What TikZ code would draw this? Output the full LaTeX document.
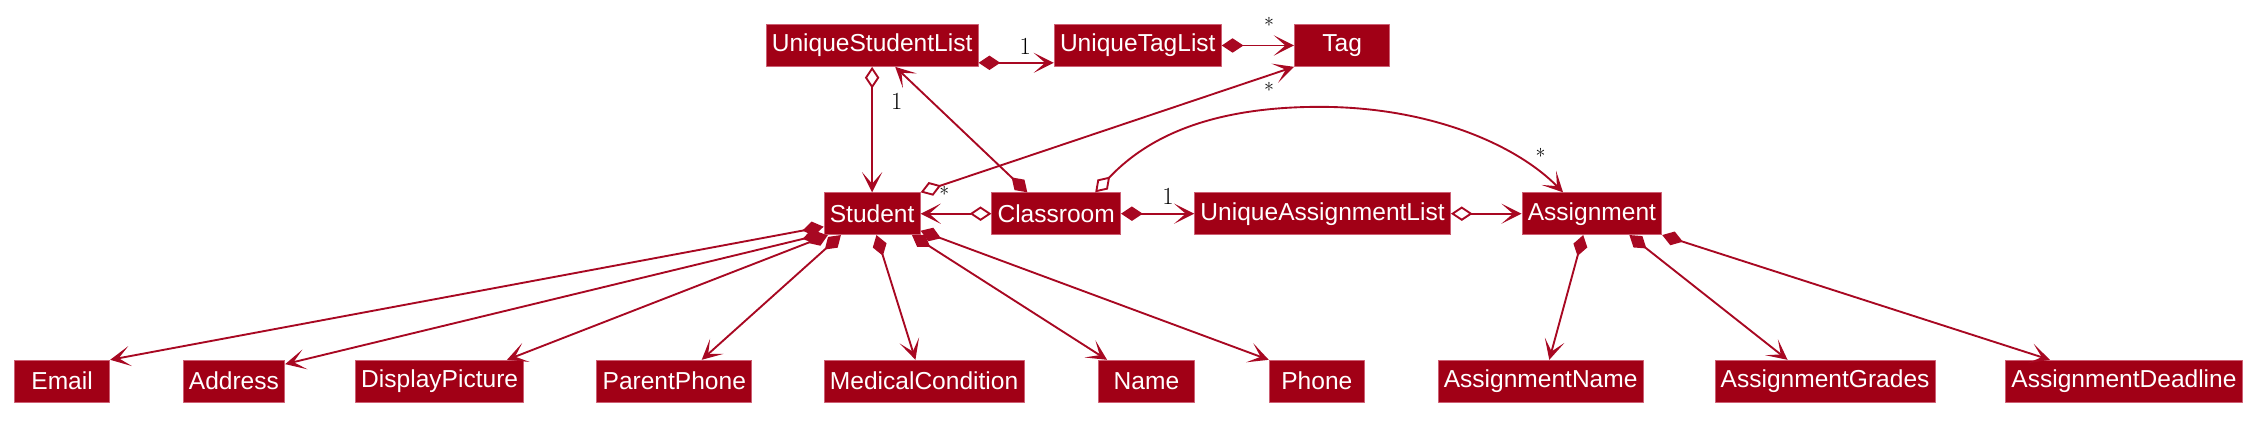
\documentclass[tikz,border=0pt]{standalone}
\usepackage{fontspec}
\newfontfamily\boxfont{Liberation Sans}
\usetikzlibrary{arrows.meta}
\definecolor{umlred}{RGB}{161,0,22}
\definecolor{umledge}{RGB}{168,8,34}
\definecolor{umlborder}{RGB}{205,95,115}
\begin{document}
\begin{tikzpicture}[x=1pt, y=-1pt, line join=round,
	cls/.style={draw=umlborder, fill=umlred, text=white, font=\boxfont\fontsize{17}{20}\selectfont, minimum height=29pt, minimum width=66pt, inner xsep=4pt, inner ysep=0pt, line width=0.6pt},
	rel/.style={draw=umledge, line width=1.3pt},
	comp/.style={rel, arrows={Diamond[length=15pt,width=10pt]-Stealth[length=14pt,width=14pt,inset=8pt]}},
	aggr/.style={rel, arrows={Diamond[open,length=15pt,width=10pt]-Stealth[length=14pt,width=14pt,inset=8pt]}},
	mult/.style={font=\fontsize{17}{17}\selectfont, inner sep=0pt},
	many/.style={font=\fontsize{14}{14}\selectfont, inner sep=0pt}]
	\useasboundingbox (0,0) rectangle (1568,294);
	\node[cls] (usl) at (604,31.5) {UniqueStudentList};
	\node[cls] (utl) at (788,31.5) {UniqueTagList};
	\node[cls] (tag) at (929.5,31.5) {Tag};
	\node[cls] (student) at (604,148) {Student};
	\node[cls] (classroom) at (731.5,148) {Classroom};
	\node[cls] (ual) at (916,148) {UniqueAssignmentList};
	\node[cls] (assignment) at (1102.5,148) {Assignment};
	\node[cls] (email) at (43,264) {Email};
	\node[cls] (address) at (162,264) {Address};
	\node[cls] (dpic) at (304.5,264) {DisplayPicture};
	\node[cls] (pphone) at (467,264) {ParentPhone};
	\node[cls] (medcond) at (640,264) {MedicalCondition};
	\node[cls] (name) at (794,264) {Name};
	\node[cls] (phone) at (912,264) {Phone};
	\node[cls] (aname) at (1067,264) {AssignmentName};
	\node[cls] (agrades) at (1264,264) {AssignmentGrades};
	\node[cls] (adeadline) at (1471,264) {AssignmentDeadline};
	\draw[comp] ([yshift=-12pt]usl.east) -- ([yshift=-12pt]utl.west);
	\node[mult] (m1) at (710,32) {1};
	\draw[comp] (utl.east) -- (tag.west);
	\node[many] (m2) at (879,17) {*};
	\draw[aggr] (usl.south) -- (student.north);
	\node[mult] (m3) at (621,70) {1};
	\draw[comp] ([xshift=-20pt]classroom.north) -- ([xshift=16pt]usl.south);
	\draw[aggr] (student.north east) -- (tag.south west);
	\node[many] (m4) at (879,62) {*};
	\node[many] (m5) at (654,134) {*};
	\draw[aggr] ([xshift=27pt]classroom.north) .. controls (790,100) and (830,74) .. (914,74)
		.. controls (990,74) and (1050,100) .. ([xshift=-20pt]assignment.north);
	\node[many] (m6) at (1067,108) {*};
	\draw[aggr] (classroom.west) -- (student.east);
	\draw[comp] (classroom.east) -- (ual.west);
	\node[mult] (m7) at (809,136) {1};
	\draw[aggr] (ual.east) -- (assignment.west);
	\draw[comp] ([yshift=-9pt]student.west) -- (email.north east);
	\draw[comp] ([yshift=-14pt]student.west) -- ([yshift=-3pt]address.north east);
	\draw[comp] ([xshift=3pt]student.south west) -- ([xshift=-12pt]dpic.north east);
	\draw[comp] ([xshift=12pt]student.south west) -- ([xshift=19pt]pphone.north);
	\draw[comp] ([xshift=3pt]student.south) -- ([xshift=-6pt]medcond.north);
	\draw[comp] ([xshift=-6pt]student.south east) -- ([xshift=6pt]name.north west);
	\draw[comp] ([yshift=3pt]student.south east) -- (phone.north west);
	\draw[comp] ([xshift=-6pt]assignment.south) -- ([xshift=6pt]aname.north);
	\draw[comp] ([xshift=26pt]assignment.south) -- ([xshift=-26pt]agrades.north);
	\draw[comp] (assignment.south east) -- ([xshift=31pt]adeadline.north west);
\end{tikzpicture}
\end{document}
